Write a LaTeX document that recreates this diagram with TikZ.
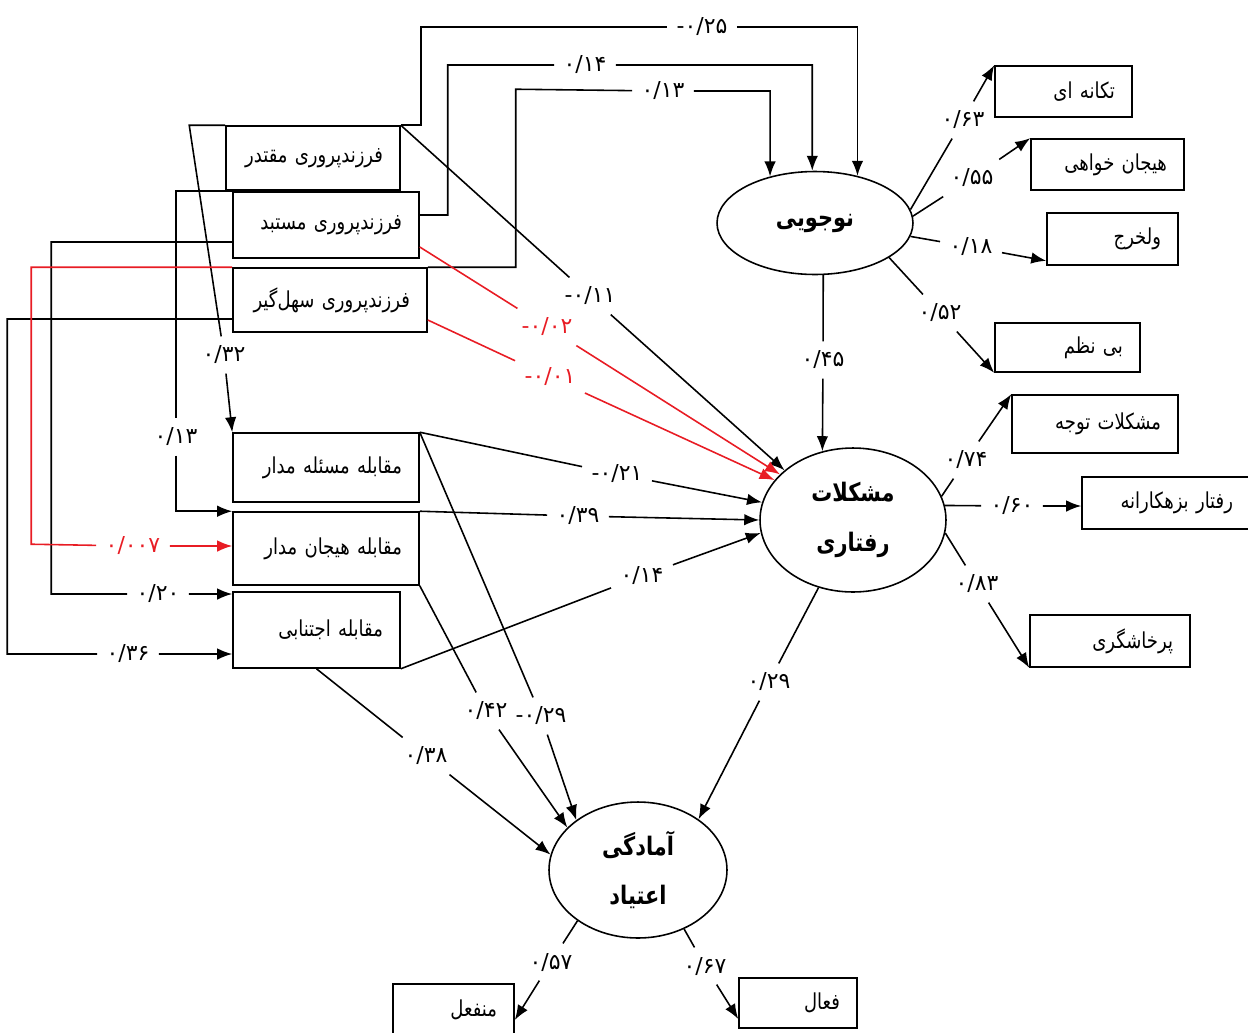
\documentclass[tikz,border=0pt]{standalone}
\usepackage{fontspec}
\usetikzlibrary{shapes.geometric, arrows.meta}
\newfontfamily\persfont[Script=Arabic, FakeStretch=0.82]{DejaVu Sans}
\newfontfamily\numfont[Script=Arabic]{DejaVu Sans}
\TeXXeTstate=1
\definecolor{pathred}{RGB}{232,28,36}
\newcommand{\fatxt}[1]{\mbox{\beginR #1\endR}}

\begin{document}
\begin{tikzpicture}[x=0.02cm, y=-0.02cm, >={Latex[length=3mm, width=2.3mm]}, line width=0.9pt,
    box/.style={draw, align=right, inner xsep=0.34cm, inner ysep=0pt, font=\persfont\fontsize{12.5}{14}\selectfont},
    latent/.style={ellipse, draw, inner sep=0pt, align=center, font=\persfont\bfseries\fontsize{14.5}{28}\selectfont},
    coef/.style={inner sep=5pt, font=\numfont\fontsize{12.5}{14}\selectfont}]
    \useasboundingbox (0,0) rectangle (1248,1032);

    % سبک های فرزندپروری و مقابله
    \node[box, text width=2.80cm, minimum height=1.28cm] (mqt) at (313,158) {\fatxt{فرزندپروری مقتدر}};
    \node[box, text width=3.04cm, minimum height=1.32cm] (mst) at (326,225) {\fatxt{فرزندپروری مستبد}};
    \node[box, text width=3.20cm, minimum height=1.28cm] (shl) at (330,300) {\fatxt{فرزندپروری سهل‌گیر}};
    \node[box, text width=3.04cm, minimum height=1.38cm] (msl) at (326,467.5) {\fatxt{مقابله مسئله مدار}};
    \node[box, text width=3.04cm, minimum height=1.46cm] (hjm) at (326,548.5) {\fatxt{مقابله هیجان مدار}};
    \node[box, text width=2.66cm, minimum height=1.52cm] (ejt) at (316.5,630) {\fatxt{مقابله اجتنابی}};

    % متغیرهای پنهان
    \node[latent, minimum width=3.92cm, minimum height=2.06cm] (noj) at (815,223) {\fatxt{نوجویی}};
    \node[latent, minimum width=3.72cm, minimum height=2.88cm] (msh) at (853,520) {\fatxt{مشکلات}\\\fatxt{رفتاری}};
    \node[latent, minimum width=3.56cm, minimum height=2.72cm] (amd) at (638,870) {\fatxt{آمادگی}\\\fatxt{اعتیاد}};

    % نشانگرها
    \node[box, text width=2.06cm, minimum height=1.02cm] (tak) at (1063.5,91.5) {\fatxt{تکانه ای}};
    \node[box, text width=2.38cm, minimum height=1.02cm] (hjk) at (1107.5,164.5) {\fatxt{هیجان خواهی}};
    \node[box, text width=1.94cm, minimum height=1.04cm] (vlk) at (1112.5,239) {\fatxt{ولخرج}};
    \node[box, text width=2.22cm, minimum height=0.98cm] (bin) at (1067.5,347.5) {\fatxt{بی نظم}};
    \node[box, text width=2.64cm, minimum height=1.16cm] (tvj) at (1095,424) {\fatxt{مشکلات توجه}};
    \node[box, text width=2.68cm, minimum height=1.04cm] (bzh) at (1166,503) {\fatxt{رفتار بزهکارانه}};
    \node[box, text width=2.52cm, minimum height=1.04cm] (prk) at (1110,641) {\fatxt{پرخاشگری}};
    \node[box, text width=1.74cm, minimum height=1.04cm] (mnf) at (453.5,1010) {\fatxt{منفعل}};
    \node[box, text width=1.68cm, minimum height=1.00cm] (fal) at (798,1003) {\fatxt{فعال}};

    % ضرایب
    \node[coef] (l25) at (702,27) {۰/۲۵-};
    \node[coef] (l14a) at (585,65) {۰/۱۴};
    \node[coef] (l13a) at (663,91) {۰/۱۳};
    \node[coef] (l32) at (224,355) {۰/۳۲};
    \node[coef] (l13b) at (176,437) {۰/۱۳};
    \node[coef, text=pathred] (l007) at (133,546) {۰/۰۰۷};
    \node[coef] (l20) at (158,594) {۰/۲۰};
    \node[coef] (l36) at (128,654) {۰/۳۶};
    \node[coef] (l11) at (590,296) {۰/۱۱-};
    \node[coef, text=pathred] (l02) at (547,327) {۰/۰۲-};
    \node[coef, text=pathred] (l01) at (550,377) {۰/۰۱-};
    \node[coef] (l21) at (617,474) {۰/۲۱-};
    \node[coef] (l39) at (578,516) {۰/۳۹};
    \node[coef] (l14b) at (642,576) {۰/۱۴};
    \node[coef] (l45) at (823,360) {۰/۴۵};
    \node[coef] (l29b) at (541,716) {۰/۲۹-};
    \node[coef] (l42) at (486,711) {۰/۴۲};
    \node[coef] (l38) at (426,756) {۰/۳۸};
    \node[coef] (l29a) at (769,682) {۰/۲۹};
    \node[coef] (l63) at (963,120) {۰/۶۳};
    \node[coef] (l55) at (972,178) {۰/۵۵};
    \node[coef] (l18) at (971,247) {۰/۱۸};
    \node[coef] (l52) at (940,313) {۰/۵۲};
    \node[coef] (l74) at (966,460) {۰/۷۴};
    \node[coef] (l60) at (1012,506) {۰/۶۰};
    \node[coef] (l83) at (977,584) {۰/۸۳};
    \node[coef] (l57) at (551,962) {۰/۵۷};
    \node[coef] (l67) at (705,966) {۰/۶۷};

    % مسیرهای بالا به نوجویی
    \draw[->] (mqt.north east) -- ++(20,0) |- (l25) -| (noj.48);
    \draw[->] ([yshift=.2cm]mst.east) -| ++(28,-150) -- (l14a) -| (noj.93);
    \draw[->] (shl.north east) -| ++(88,-178) -- (l13a) -| (noj.134);

    % مسیرهای سمت چپ به سبک های مقابله
    \draw[->] (mqt.north west) -- ++(-36,0) -- (l32) -- (msl.north west);
    \draw[->] (mst.north west) -| (l13b) |- (hjm.north west);
    \draw[->] ([yshift=-.34cm]mst.west) -| ++(-181,352) -- (l20) -- (l20 -| ejt.west);
    \draw[->] ([yshift=-.38cm]shl.west) -| ++(-225,335) -- (l36) -- (l36 -| ejt.west);
    \draw[->, pathred] (shl.north west) -| ++(-201,277) -- (l007) -- (l007 -| hjm.west);

    % مسیرها به مشکلات رفتاری
    \draw[->] (mqt.north east) -- (l11) -- (msh.144);
    \draw[->, pathred] ([yshift=-.44cm]mst.east) -- (l02) -- (msh.148);
    \draw[->, pathred] ([yshift=-.4cm]shl.east) -- (l01) -- (msh.153);
    \draw[->] (msl.north east) -- (l21) -- (msh.169);
    \draw[->] (hjm.north east) -- (l39) -- (msh.180);
    \draw[->] (ejt.south east) -- (l14b) -- (msh.188);
    \draw[->] (noj.279) -- (l45) -- (msh.114);

    % مسیرها به آمادگی اعتیاد
    \draw[->] (msl.north east) -- (l29b) -- (amd.141);
    \draw[->] (hjm.south east) -- (l42) -- (amd.149);
    \draw[->] (ejt.south) -- (l38) -- (amd.170);
    \draw[->] (msh.243) -- (l29a) -- (amd.40);

    % بارهای عاملی
    \draw[->] (noj.8) -- (l63) -- (tak.north west);
    \draw[->] (noj.4) -- (l55) -- (hjk.north west);
    \draw[->] (noj.352) -- (l18) -- ([yshift=.1cm]vlk.south west);
    \draw[->] (noj.335) -- (l52) -- (bin.south west);
    \draw[->] (msh.15) -- (l74) -- (tvj.north west);
    \draw[->] (msh.9) -- (l60) -- (l60 -| bzh.west);
    \draw[->] (msh.352) -- (l83) -- (prk.south west);
    \draw[->] (amd.220) -- (l57) -- ([yshift=-.2cm]mnf.east);
    \draw[->] (amd.308) -- (l67) -- ([yshift=-.32cm]fal.west);
\end{tikzpicture}
\end{document}
